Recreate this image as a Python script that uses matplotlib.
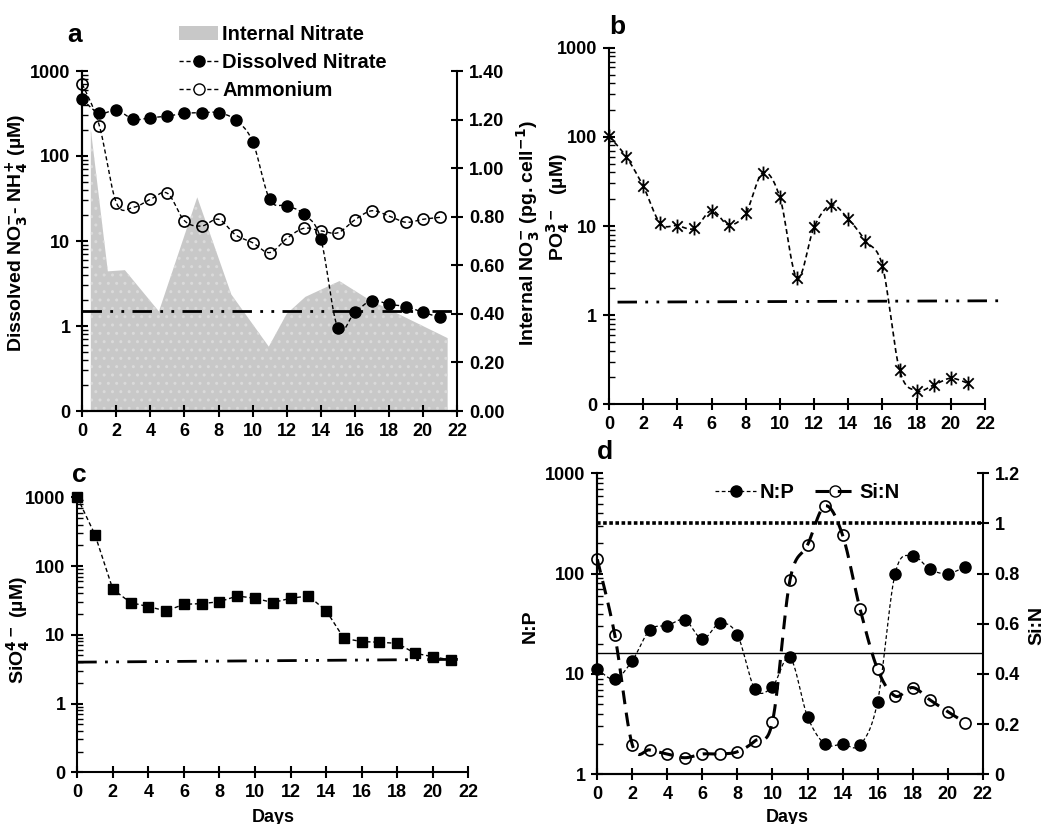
import numpy as np
import matplotlib
matplotlib.use('Agg')
import matplotlib.pyplot as plt
from matplotlib.path import Path
from matplotlib.ticker import FixedLocator, NullFormatter
from matplotlib.patches import Patch
from matplotlib.lines import Line2D

plt.rcParams['font.family'] = ['Liberation Sans', 'DejaVu Sans']
plt.rcParams['font.weight'] = 'bold'
plt.rcParams['axes.linewidth'] = 1.5
plt.rcParams['mathtext.default'] = 'bf'

# ---- data ----
days = list(range(22))
dissolved_nitrate = [464, 318, 347, 270, 282, 295, 318, 323, 323, 265, 148, 31,
                     26, 20.8, 10.6, 0.95, 1.45, 1.99, 1.8, 1.69, 1.45, 1.26]
ammonium = [703, 228, 28.2, 24.9, 30.9, 36.4, 17.3, 15.0, 18.0, 11.8, 9.55, 7.3,
            10.7, 14.1, 13.2, 12.5, 17.7, 22.7, 19.7, 16.6, 18.0, 19.0]
internal_days = [0.5, 1.5, 2.5, 4.5, 6.75, 8.75, 10.95, 12.0, 13.1, 15.1, 16.8, 21.45]
internal_nitrate = [1.16, 0.575, 0.58, 0.41, 0.88, 0.48, 0.265, 0.40, 0.47, 0.535, 0.46, 0.30]
phosphate = [102, 60, 28, 10.7, 10.1, 9.4, 14.9, 10.3, 13.9, 39.6, 20.9, 2.59,
             9.7, 17.2, 12.0, 6.85, 3.56, 0.243, 0.142, 0.165, 0.196, 0.172]
silicate = [1000, 283, 45.9, 29.4, 25.7, 22.2, 27.8, 28.4, 30.3, 36.7, 34.0, 29.4,
            34.0, 36.7, 22.5, 8.9, 7.96, 7.8, 7.5, 5.4, 4.8, 4.3]
np_ratio = [11.2, 8.85, 13.6, 27.5, 30.4, 34.5, 22.3, 32, 24.5, 7.08, 7.48, 14.6,
            3.76, 2.0, 2.0, 1.96, 5.3, 100, 150, 110, 100, 117]
si_n_ratio = [0.857, 0.555, 0.117, 0.097, 0.081, 0.066, 0.081, 0.081, 0.09, 0.133, 0.21, 0.775,
              0.914, 1.07, 0.954, 0.659, 0.419, 0.312, 0.346, 0.296, 0.25, 0.206]

nitrate_limit = 1.5
phosphate_limit = [1.4, 1.45]
phosphate_limit_days = [0.5, 23.0]
silicate_limit = [4.0, 4.4]
silicate_limit_days = [0, 21.7]
redfield_np = 16
si_n_ref = 1.0

log_ticks = [0.1, 1, 10, 100, 1000]
log_labels = ['0', '1', '10', '100', '1000']
day_ticks = list(range(0, 23, 2))

W, H = 1046, 824
TICK_FS = 13
LABEL_FS = 14
fig = plt.figure(figsize=(W / 100, H / 100), dpi=100)


def box(left, top, right, bottom):
    return [left / W, 1 - bottom / H, (right - left) / W, (bottom - top) / H]


def smooth(x, y, log=False, n=24):
    # Excel style smoothed line (bezier through every point)
    x = np.asarray(x, float)
    y = np.log10(y) if log else np.asarray(y, float)
    p = np.column_stack([x, y])
    p = np.vstack([p[0], p, p[-1]])
    out = []
    t = np.linspace(0, 1, n)[:, None]
    for i in range(1, len(p) - 2):
        p0, p1, p2, p3 = p[i - 1], p[i], p[i + 1], p[i + 2]
        c1 = p1 + (p2 - p0) / 6
        c2 = p2 - (p3 - p1) / 6
        out.append((1 - t) ** 3 * p1 + 3 * (1 - t) ** 2 * t * c1 + 3 * (1 - t) * t ** 2 * c2 + t ** 3 * p2)
    out = np.vstack(out)
    return out[:, 0], (10 ** out[:, 1] if log else out[:, 1])


def style_log(ax, ticks, labels):
    ax.set_yscale('log')
    ax.set_ylim(ticks[0], ticks[-1])
    ax.yaxis.set_major_locator(FixedLocator(ticks))
    ax.set_yticklabels(labels)
    minor = [m * 10.0 ** e for e in range(int(np.log10(ticks[0])), 3) for m in range(2, 10)]
    ax.yaxis.set_minor_locator(FixedLocator(minor))
    ax.yaxis.set_minor_formatter(NullFormatter())
    ax.set_xlim(0, 22)
    ax.set_xticks(day_ticks)
    ax.tick_params(axis='both', which='major', direction='inout', length=9, width=1.5,
                   labelsize=TICK_FS, pad=4)
    ax.tick_params(axis='y', which='minor', direction='in', length=4, width=1)
    ax.spines['top'].set_visible(False)
    ax.spines['right'].set_visible(False)


dashdot = (0, (7, 3, 1, 3, 1, 3))
star = Path([(0, -1), (0, 1), (-0.75, -0.75), (0.75, 0.75), (-0.75, 0.75), (0.75, -0.75)],
            [Path.MOVETO, Path.LINETO, Path.MOVETO, Path.LINETO, Path.MOVETO, Path.LINETO])

# ---- panel a ----
ax_a = fig.add_axes(box(82.3, 71, 457, 411))
ax_a2 = ax_a.twinx()
ax_a2.fill_between(internal_days, 0, internal_nitrate, facecolor='#c8c8c8', edgecolor='#dadada',
                   hatch='..', linewidth=0)
ax_a2.set_ylim(0, 1.4)
ax_a2.set_yticks(np.arange(0, 1.41, 0.2))
ax_a2.set_yticklabels(['%.2f' % v for v in np.arange(0, 1.41, 0.2)])
ax_a2.tick_params(axis='y', direction='inout', length=9, width=1.5, labelsize=TICK_FS, pad=4)
ax_a2.spines['top'].set_visible(False)
ax_a2.spines['right'].set_linewidth(1.5)
ax_a.set_zorder(ax_a2.get_zorder() + 1)
ax_a.patch.set_visible(False)
style_log(ax_a, log_ticks, log_labels)
ax_a.spines['right'].set_visible(False)

ax_a.plot([0, 22], [nitrate_limit] * 2, color='black', lw=2, linestyle=dashdot)
sx, sy = smooth(days, dissolved_nitrate, log=True)
ax_a.plot(sx, sy, color='black', lw=1, linestyle=(0, (3, 2)), clip_on=False)
ax_a.plot(days, dissolved_nitrate, 'o', color='black', ms=8, clip_on=False)
sx, sy = smooth(days, ammonium, log=True)
ax_a.plot(sx, sy, color='black', lw=1, linestyle=(0, (3, 2)), clip_on=False)
ax_a.plot(days, ammonium, 'o', mfc='none', mec='black', mew=1.2, ms=8, clip_on=False)

ax_a.set_ylabel('Dissolved NO$_3^{-}$- NH$_4^{+}$ (µM)', fontsize=LABEL_FS, fontweight='bold')
ax_a.yaxis.set_label_coords(-0.14, 0.524)
ax_a2.set_ylabel('Internal NO$_3^{-}$ (pg. cell$^{-1}$)', fontsize=LABEL_FS, fontweight='bold',
                 rotation=90)
ax_a2.yaxis.set_label_coords(1.153, 0.524)

leg_handles = [Patch(facecolor='#c8c8c8', edgecolor='none'),
               Line2D([], [], color='black', lw=1, linestyle=(0, (3, 2)), marker='o', ms=8),
               Line2D([], [], color='black', lw=1, linestyle=(0, (3, 2)), marker='o', ms=8,
                      mfc='white', mec='black')]
fig.legend(leg_handles, ['Internal Nitrate', 'Dissolved Nitrate', 'Ammonium'],
           loc='upper left', bbox_to_anchor=(179 / W, 1 - 25 / H), frameon=False,
           handlelength=1.95, handletextpad=0.2, labelspacing=0.45,
           borderaxespad=0, borderpad=0, prop={'weight': 'bold', 'size': 14.5})
fig.text(75 / W, 1 - 35 / H, 'a', fontsize=19, fontweight='bold', ha='center', va='center')

# ---- panel b ----
ax_b = fig.add_axes(box(609, 47.7, 985, 404.3))
style_log(ax_b, log_ticks, log_labels)
ax_b.plot(phosphate_limit_days, phosphate_limit, color='black', lw=2, linestyle=dashdot,
          clip_on=False)
sx, sy = smooth(days, phosphate, log=True)
ax_b.plot(sx, sy, color='black', lw=1.2, linestyle=(0, (3, 2)), clip_on=False)
ax_b.plot(days, phosphate, linestyle='none', marker=star, color='black', ms=10, mew=1.3,
          clip_on=False)
ax_b.set_ylabel('PO$_4^{3-}$  (µM)', fontsize=LABEL_FS, fontweight='bold')
ax_b.yaxis.set_label_coords(-0.098, 0.553)
fig.text(617 / W, 1 - 27 / H, 'b', fontsize=19, fontweight='bold', ha='center', va='center')

# ---- panel c ----
ax_c = fig.add_axes(box(77.3, 497.3, 468.3, 772.3))
style_log(ax_c, log_ticks, log_labels)
ax_c.plot(silicate_limit_days, silicate_limit, color='black', lw=2, linestyle=dashdot)
ax_c.plot(days, silicate, color='black', lw=1, linestyle=(0, (3, 2)), marker='s', ms=7,
          clip_on=False)
ax_c.set_ylabel('SiO$_4^{4-}$ (µM)', fontsize=LABEL_FS, fontweight='bold')
ax_c.yaxis.set_label_coords(-0.116, 0.517)
ax_c.set_xlabel('Days', fontsize=TICK_FS, fontweight='bold')
ax_c.xaxis.set_label_coords(0.5, -0.133)
fig.text(79 / W, 1 - 475 / H, 'c', fontsize=19, fontweight='bold', ha='center', va='center')

# ---- panel d ----
ax_d = fig.add_axes(box(597.3, 473.3, 982.7, 774.3))
ax_d2 = ax_d.twinx()
style_log(ax_d, [1, 10, 100, 1000], ['1', '10', '100', '1000'])
ax_d2.set_ylim(0, 1.2)
ax_d2.set_yticks([0, 0.2, 0.4, 0.6, 0.8, 1.0, 1.2])
ax_d2.set_yticklabels(['0', '0.2', '0.4', '0.6', '0.8', '1', '1.2'])
ax_d2.tick_params(axis='y', direction='inout', length=9, width=1.5, labelsize=TICK_FS, pad=4)
ax_d2.spines['top'].set_visible(False)
ax_d2.spines['right'].set_linewidth(1.5)

ax_d.axhline(redfield_np, color='black', lw=1)
ax_d2.plot([0, 21.9], [si_n_ref] * 2, color='black', lw=2.6, linestyle=(0, (1, 0.7)))
sx, sy = smooth(days, np_ratio, log=True)
ax_d.plot(sx, sy, color='black', lw=0.9, linestyle=(0, (3, 2)), clip_on=False)
ax_d.plot(days, np_ratio, 'o', color='black', ms=8, clip_on=False)
sx, sy = smooth(days, si_n_ratio)
ax_d2.plot(sx, sy, color='black', lw=2.2, linestyle=(0, (4.5, 2.8)), clip_on=False)
ax_d2.plot(days, si_n_ratio, 'o', mfc='none', mec='black', mew=1.2, ms=8, clip_on=False)

ax_d.set_ylabel('N:P', fontsize=LABEL_FS, fontweight='bold')
ax_d.yaxis.set_label_coords(-0.151, 0.493)
ax_d2.set_ylabel('Si:N', fontsize=LABEL_FS, fontweight='bold', rotation=90)
ax_d2.yaxis.set_label_coords(1.118, 0.495)
ax_d.set_xlabel('Days', fontsize=TICK_FS, fontweight='bold')
ax_d.xaxis.set_label_coords(0.492, -0.115)

d_handles = [Line2D([], [], color='black', lw=0.9, linestyle=(0, (3, 2)), marker='o', ms=8),
             Line2D([], [], color='black', lw=2.2, linestyle=(0, (4.5, 2.8)), marker='o', ms=8,
                    mfc='none', mec='black')]
ax_d.legend(d_handles, ['N:P', 'Si:N'], loc='upper center', bbox_to_anchor=(0.545, 0.995),
            ncol=2, frameon=False, handlelength=2.0, handletextpad=0.2, columnspacing=1.0,
            borderaxespad=0, prop={'weight': 'bold', 'size': 14.5})
fig.text(605 / W, 1 - 452 / H, 'd', fontsize=19, fontweight='bold', ha='center', va='center')

fig.savefig('out.png', dpi=100)
